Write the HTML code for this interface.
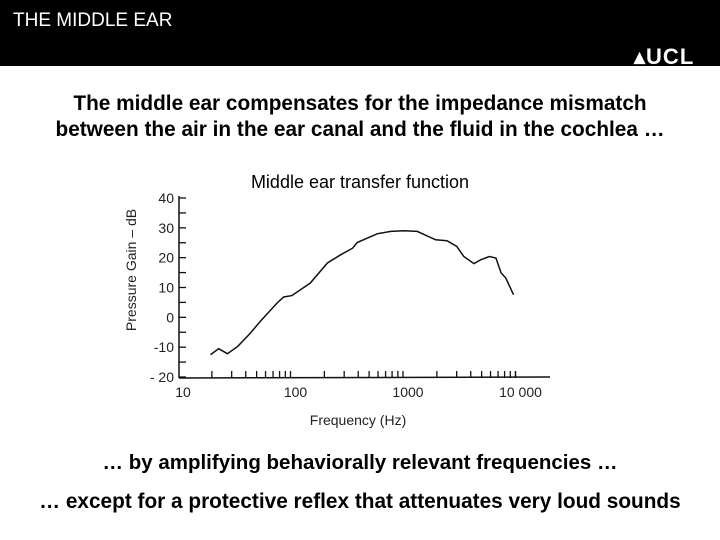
<!DOCTYPE html>
<html><head><meta charset="utf-8"><style>
body{margin:0;width:720px;height:540px;background:#fff;overflow:hidden;font-family:"Liberation Sans",sans-serif;position:relative}
.hdr{position:absolute;left:0;top:0;width:720px;height:66px;background:#000}
.t{position:absolute;color:#000;font-weight:bold;text-align:center;width:720px}
</style></head><body>
<div class="hdr">
<div style="position:absolute;left:13px;top:10px;color:#fff;font-size:19px">THE MIDDLE EAR</div>
<div style="position:absolute;left:634px;top:44px;color:#fff;font-size:22px;font-weight:bold;letter-spacing:1px">▴UCL</div>
</div>
<div class="t" style="top:91px;font-size:20.8px;line-height:26px">The middle ear compensates for the impedance mismatch<br>between the air in the ear canal and the fluid in the cochlea …</div>
<div class="t" style="top:451px;font-size:20.5px">… by amplifying behaviorally relevant frequencies …</div>
<div class="t" style="top:490px;font-size:20.8px">… except for a protective reflex that attenuates very loud sounds</div>
<svg id="chart" width="720" height="540" style="position:absolute;left:0;top:0"></svg>
<script>
const freqs=[19.5,23,27.5,34,44,54,76,87,103,150,213,280,357,392,590,777,1020,1340,1950,2460,3000,3470,4270,4900,5850,6700,7450,8200,9600];
const gains=[-12.5,-10.5,-12.2,-9.7,-5.3,-1.3,4.8,6.8,7.3,11.5,18.2,21,23.2,25.1,28,28.8,29,28.8,26,25.7,23.8,20.4,18,19.3,20.4,19.9,14.9,13.2,7.6];
const yTicks=[40,30,20,10,0,-10,-20];
const yTickLabels=["40","30","20","10","0","-10","- 20"];
const xTicks=[10,100,1000,10000];
const xTickLabels=["10","100","1000","10 000"];
const NS="http://www.w3.org/2000/svg",svg=document.getElementById('chart');
function X(f){return 178+(Math.log10(f)-1)*112.5;}
function Y(g){return 198+(40-g)*179/60;}
function mk(t,a,txt){const e=document.createElementNS(NS,t);for(const k in a)e.setAttribute(k,a[k]);if(txt!=null)e.textContent=txt;svg.appendChild(e);return e;}
let e=mk('text',{x:360,y:188,'text-anchor':'middle','font-size':18,'font-family':'Liberation Sans, sans-serif'},'Middle ear transfer function');


e=mk('line',{x1:179,y1:196,x2:179,y2:378,stroke:'#111','stroke-width':1.5});


e=mk('line',{x1:179,y1:378,x2:550,y2:377,stroke:'#111','stroke-width':1.5});


for(let g=-20;g<=40;g+=5){e=mk('line',{x1:179,y1:Y(g),x2:186,y2:Y(g),stroke:'#111','stroke-width':1.3});

}
yTicks.forEach((g,i)=>{e=mk('text',{x:174,y:Y(g)+5,'text-anchor':'end','font-size':14,fill:'#222'},yTickLabels[i]);

});
for(let d=10;d<=10000;d*=10)for(let m=2;m<=(d==10000?1:10);m++){const f=d*m;e=mk('line',{x1:X(f),y1:371,x2:X(f),y2:378,stroke:'#111','stroke-width':1.3});

}
e=mk('line',{x1:X(10000),y1:371,x2:X(10000),y2:378,stroke:'#111','stroke-width':1.3});


xTicks.forEach((f,i)=>{e=mk('text',{x:X(f)+5,y:397,'text-anchor':'middle','font-size':14,fill:'#222'},xTickLabels[i]);

});
e=mk('text',{x:358,y:425,'text-anchor':'middle','font-size':14,fill:'#222'},'Frequency  (Hz)');


e=mk('text',{x:0,y:0,'text-anchor':'middle','font-size':14,fill:'#222',transform:'translate(136,270) rotate(-90)'},'Pressure  Gain – dB');


e=mk('path',{d:freqs.map((f,i)=>(i?'L':'M')+X(f).toFixed(1)+','+Y(gains[i]).toFixed(1)).join(''),fill:'none',stroke:'#111','stroke-width':1.5});


</script>
</body></html>
